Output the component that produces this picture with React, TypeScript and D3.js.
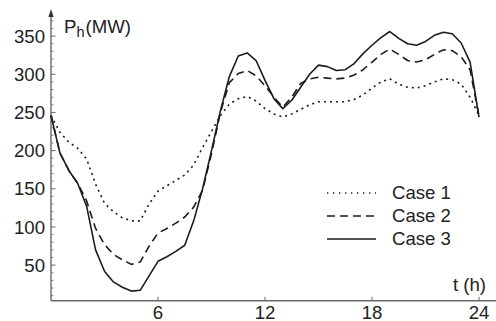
// @ts-nocheck
import { useEffect, useRef } from "react"
import * as d3 from "d3"

const hours = [
  0, 0.5, 1, 1.5, 2, 2.5, 3, 3.5, 4, 4.5, 5, 5.5, 6, 6.5, 7, 7.5, 8, 8.5, 9, 9.5, 10, 10.5, 11, 11.5,
  12, 12.5, 13, 13.5, 14, 14.5, 15, 15.5, 16, 16.5, 17, 17.5, 18, 18.5, 19, 19.5, 20, 20.5, 21, 21.5,
  22, 22.5, 23, 23.5, 24,
]

const case1 = [
  246, 224, 211, 203, 189, 156, 131, 120, 112, 108, 108, 130, 147, 154, 161, 168, 181, 204, 225, 246,
  261, 268, 271, 265, 255, 248, 244, 248, 254, 260, 264, 264, 264, 264, 267, 273, 282, 290, 294, 287,
  283, 282, 285, 290, 294, 293, 287, 270, 246,
]

const case2 = [
  246, 197, 174, 157, 134, 98, 77, 64, 57, 51, 54, 75, 92, 98, 105, 113, 126, 148, 196, 250, 289, 301,
  305, 298, 285, 270, 257, 270, 288, 294, 296, 295, 294, 295, 299, 306, 316, 326, 333, 326, 318, 316,
  319, 326, 332, 331, 323, 306, 245,
]

const case3 = [
  246, 197, 174, 157, 127, 70, 42, 28, 21, 16, 17, 36, 55, 61, 68, 76, 108, 150, 200, 252, 297, 324,
  328, 318, 292, 268, 255, 266, 283, 300, 312, 310, 305, 306, 314, 327, 338, 348, 356, 347, 340, 338,
  343, 351, 355, 353, 341, 316, 244,
]

const series = [
  { name: "Case 1", values: case1, dash: "2,4" },
  { name: "Case 2", values: case2, dash: "8,5" },
  { name: "Case 3", values: case3, dash: null },
]

const xTicks = [6, 12, 18, 24]
const yTicks = [50, 100, 150, 200, 250, 300, 350]
const yMinor = d3.range(10, 380, 10).filter((v) => v % 50 !== 0)

export default function App() {
  const svgRef = useRef<SVGSVGElement>(null)

  useEffect(() => {
    if (!svgRef.current) return
    const width = 496
    const height = 321
    const font = "'Liberation Sans', Arial, Helvetica, sans-serif"
    const fs = 18.6
    const axisColor = "#6a6a6a"
    const ink = "#1c1c1c"

    d3.select(svgRef.current).selectAll("*").remove()
    const svg = d3.select(svgRef.current).attr("width", width).attr("height", height)

    const x = d3.scaleLinear().domain([0, 24]).range([51, 479])
    const y = d3.scaleLinear().domain([0, 350]).range([303.3, 36.1])
    const x0 = x(0)
    const yAxisPos = y(3.3)

    // axes
    svg
      .append("line")
      .attr("x1", x0)
      .attr("x2", width)
      .attr("y1", yAxisPos)
      .attr("y2", yAxisPos)
      .attr("stroke", axisColor)
      .attr("stroke-width", 1.6)
    svg
      .append("line")
      .attr("x1", x0)
      .attr("x2", x0)
      .attr("y1", yAxisPos)
      .attr("y2", 14)
      .attr("stroke", axisColor)
      .attr("stroke-width", 1.4)
    svg
      .append("path")
      .attr("d", `M${x0},9 L${x0 - 2.6},17 L${x0 + 2.6},17 Z`)
      .attr("fill", "#333")

    // y ticks
    svg
      .selectAll(".ymin")
      .data(yMinor)
      .join("line")
      .attr("x1", x0)
      .attr("x2", x0 + 2.5)
      .attr("y1", (d) => y(d))
      .attr("y2", (d) => y(d))
      .attr("stroke", axisColor)
      .attr("stroke-width", 0.8)
    svg
      .selectAll(".ymaj")
      .data(yTicks)
      .join("line")
      .attr("x1", x0)
      .attr("x2", x0 + 4.5)
      .attr("y1", (d) => y(d))
      .attr("y2", (d) => y(d))
      .attr("stroke", axisColor)
      .attr("stroke-width", 1)
    svg
      .selectAll(".ylab")
      .data(yTicks)
      .join("text")
      .attr("x", 45)
      .attr("y", (d) => y(d) + 6.6)
      .attr("text-anchor", "end")
      .attr("font-family", font)
      .attr("font-size", fs)
      .attr("fill", "#222")
      .text((d) => d)

    // x ticks
    svg
      .selectAll(".xt")
      .data(xTicks)
      .join("line")
      .attr("x1", (d) => x(d))
      .attr("x2", (d) => x(d))
      .attr("y1", yAxisPos)
      .attr("y2", yAxisPos - 4)
      .attr("stroke", axisColor)
      .attr("stroke-width", 1)
    svg
      .selectAll(".xlab")
      .data(xTicks)
      .join("text")
      .attr("x", (d) => x(d))
      .attr("y", 318.5)
      .attr("text-anchor", "middle")
      .attr("font-family", font)
      .attr("font-size", fs)
      .attr("fill", "#222")
      .text((d) => d)

    // axis titles
    const yt = svg
      .append("text")
      .attr("x", 64)
      .attr("y", 33)
      .attr("font-family", font)
      .attr("font-size", fs)
      .attr("fill", "#222")
    yt.append("tspan").text("P")
    yt.append("tspan").attr("font-size", 14.5).attr("dy", 4).text("h")
    yt.append("tspan").attr("dy", -4).attr("dx", 1).text("(MW)")

    svg
      .append("text")
      .attr("x", 486)
      .attr("y", 291)
      .attr("text-anchor", "end")
      .attr("font-family", font)
      .attr("font-size", fs)
      .attr("fill", "#222")
      .text("t (h)")

    // curves
    const line = d3
      .line<number>()
      .x((_, i) => x(hours[i]))
      .y((d) => y(d))

    series.forEach((s) => {
      svg
        .append("path")
        .attr("d", line(s.values))
        .attr("fill", "none")
        .attr("stroke", ink)
        .attr("stroke-width", 1.6)
        .attr("stroke-linejoin", "round")
        .attr("stroke-dasharray", s.dash)
    })

    // legend
    const legendY = [193, 216, 239]
    const legend = svg
      .selectAll(".leg")
      .data(series)
      .join("g")
      .attr("transform", (_, i) => `translate(0,${legendY[i]})`)
    legend
      .append("line")
      .attr("x1", 327)
      .attr("x2", 376)
      .attr("stroke", ink)
      .attr("stroke-width", 1.5)
      .attr("stroke-dasharray", (d) => (d.dash === "2,4" ? "1.3,4.7" : d.dash))
    legend
      .append("text")
      .attr("x", 392)
      .attr("y", 5.8)
      .attr("font-family", font)
      .attr("font-size", fs)
      .attr("fill", "#222")
      .text((d) => d.name)
  }, [])

  return <svg ref={svgRef} style={{ position: "absolute", left: 0, top: 0 }} />
}
